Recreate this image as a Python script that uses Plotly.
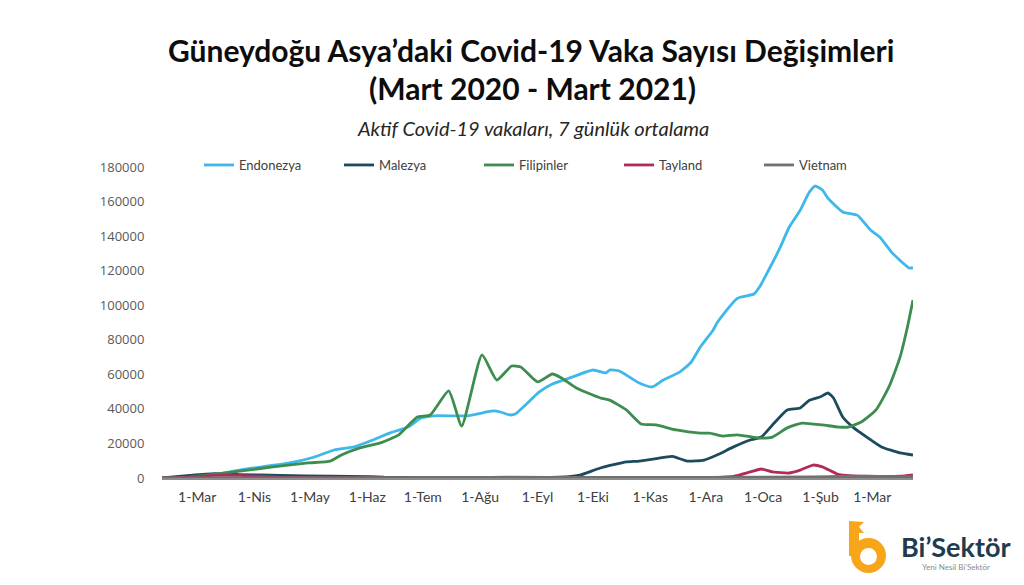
import plotly.graph_objects as go

# ---------------- data ----------------
endonezya_dates = ["2020-02-11", "2020-03-03", "2020-03-24", "2020-04-20", "2020-05-03", "2020-05-14",
                   "2020-05-25", "2020-06-04", "2020-06-13", "2020-06-23", "2020-06-30", "2020-07-07",
                   "2020-07-25", "2020-08-08", "2020-08-12", "2020-08-17", "2020-08-20", "2020-09-02",
                   "2020-09-09", "2020-09-20", "2020-10-01", "2020-10-08", "2020-10-10", "2020-10-15",
                   "2020-10-26", "2020-11-02", "2020-11-08", "2020-11-17", "2020-11-23", "2020-11-28",
                   "2020-12-05", "2020-12-07", "2020-12-18", "2020-12-27", "2020-12-30", "2021-01-04",
                   "2021-01-10", "2021-01-15", "2021-01-21", "2021-01-26", "2021-01-29", "2021-02-02",
                   "2021-02-05", "2021-02-13", "2021-02-21", "2021-02-28", "2021-03-05", "2021-03-12",
                   "2021-03-21", "2021-03-23"]
endonezya_vals = [0, 500, 4600, 8700, 12000, 16200,
                  18000, 22000, 26000, 29500, 34700, 36000,
                  36000, 38800, 38200, 36500, 37000, 49800,
                  54400, 58500, 62500, 60800, 62500, 62000,
                  55000, 52700, 56700, 61400, 67000, 75800,
                  85700, 89700, 104000, 106500, 110500, 120400,
                  133000, 145000, 155000, 165500, 169000, 166700,
                  162000, 154000, 152000, 143500, 139500, 130000,
                  121500, 121700]

malezya_dates = ["2020-02-11", "2020-02-26", "2020-03-10", "2020-03-24", "2020-04-15", "2020-05-12",
                 "2020-06-03", "2020-06-10", "2020-06-30", "2020-08-12", "2020-09-02", "2020-09-18",
                 "2020-09-24", "2020-10-05", "2020-10-19", "2020-10-26", "2020-11-10", "2020-11-13",
                 "2020-11-21", "2020-11-30", "2020-12-07", "2020-12-16", "2020-12-25", "2020-12-31",
                 "2021-01-06", "2021-01-14", "2021-01-21", "2021-01-26", "2021-02-01", "2021-02-05",
                 "2021-02-08", "2021-02-13", "2021-02-19", "2021-02-26", "2021-03-06", "2021-03-16",
                 "2021-03-23"]
malezya_vals = [0, 1500, 2500, 2000, 1500, 1000,
                800, 500, 200, 300, 300, 800,
                1700, 5800, 9300, 9800, 12200, 12500,
                9800, 10400, 13300, 18000, 22000, 23700,
                30700, 39400, 40500, 45000, 47000, 49200,
                46300, 35300, 29000, 23700, 18000, 14500,
                13300]

filipinler_dates = ["2020-02-11", "2020-02-26", "2020-03-06", "2020-03-24", "2020-04-11", "2020-04-30",
                    "2020-05-12", "2020-05-18", "2020-05-28", "2020-06-08", "2020-06-18", "2020-06-28",
                    "2020-07-05", "2020-07-15", "2020-07-22", "2020-08-02", "2020-08-10", "2020-08-18",
                    "2020-08-23", "2020-09-01", "2020-09-09", "2020-09-14", "2020-09-22", "2020-10-05",
                    "2020-10-10", "2020-10-19", "2020-10-27", "2020-11-04", "2020-11-15", "2020-11-28",
                    "2020-12-03", "2020-12-10", "2020-12-18", "2020-12-30", "2021-01-06", "2021-01-14",
                    "2021-01-22", "2021-02-02", "2021-02-11", "2021-02-16", "2021-02-23", "2021-03-03",
                    "2021-03-10", "2021-03-16", "2021-03-20", "2021-03-23"]
filipinler_vals = [0, 500, 1700, 4000, 6400, 8700,
                   9800, 13300, 17400, 20300, 25000, 35300,
                   36500, 50400, 30100, 71200, 56700, 64800,
                   64200, 55600, 60200, 57900, 52100, 46300,
                   45100, 39400, 31300, 30700, 27800, 26000,
                   26000, 24300, 25000, 23100, 23700, 29000,
                   31800, 30700, 29500, 29500, 32400, 39400,
                   52700, 70000, 87400, 103000]

tayland_dates = ["2020-02-11", "2020-02-26", "2020-03-10", "2020-03-24", "2020-04-15", "2020-05-07",
                 "2020-06-15", "2020-11-28", "2020-12-16", "2020-12-25", "2020-12-31", "2021-01-06",
                 "2021-01-15", "2021-01-21", "2021-01-28", "2021-02-02", "2021-02-10", "2021-02-13",
                 "2021-02-26", "2021-03-16", "2021-03-23"]
tayland_vals = [0, 500, 1500, 1500, 500, 200,
                100, 200, 1000, 3500, 5200, 3500,
                2900, 4600, 7500, 6400, 2300, 1700,
                1000, 1000, 1800]

vietnam_dates = ["2020-02-11", "2020-03-24", "2020-07-30", "2020-08-15", "2020-09-30", "2021-01-28",
                 "2021-02-15", "2021-03-23"]
vietnam_vals = [0, 100, 300, 500, 300, 600, 1000, 800]

series_names = ["Endonezya", "Malezya", "Filipinler", "Tayland", "Vietnam"]
series_colors = ["#3CB8EA", "#1D4B5E", "#3D8C50", "#B02A5C", "#707070"]
series_dates = [endonezya_dates, malezya_dates, filipinler_dates, tayland_dates, vietnam_dates]
series_vals = [endonezya_vals, malezya_vals, filipinler_vals, tayland_vals, vietnam_vals]

tick_dates = ["2020-03-01", "2020-04-01", "2020-05-01", "2020-06-01", "2020-07-01", "2020-08-01",
              "2020-09-01", "2020-10-01", "2020-11-01", "2020-12-01", "2021-01-01", "2021-02-01",
              "2021-03-01"]
tick_labels = ["1-Mar", "1-Nis", "1-May", "1-Haz", "1-Tem", "1-Ağu", "1-Eyl", "1-Eki", "1-Kas",
               "1-Ara", "1-Oca", "1-Şub", "1-Mar"]
y_ticks = [0, 20000, 40000, 60000, 80000, 100000, 120000, 140000, 160000, 180000]

# ---------------- layout helpers (pixel -> paper) ----------------
L, R, T, B = 162, 913, 167, 478
W, H = 1024, 585


def px(x):
    return (x - L) / (R - L)


def py(y):
    return (B - y) / (B - T)


fig = go.Figure()
for name, d, v, c in zip(series_names, series_dates, series_vals, series_colors):
    fig.add_trace(go.Scatter(x=d, y=v, name=name, mode="lines",
                             line=dict(color=c, width=2.8, shape="spline", smoothing=0.5)))

fig.update_layout(
    width=W, height=H, autosize=False,
    margin=dict(l=L, r=W - R, t=T, b=H - B),
    paper_bgcolor="white", plot_bgcolor="white",
    showlegend=True,
    legend=dict(orientation="h", x=px(199), xanchor="left", y=py(165), yanchor="middle",
                font=dict(family="Lato", size=13, color="#404040"),
                entrywidth=95, bgcolor="rgba(0,0,0,0)", itemwidth=30),
    xaxis=dict(type="date", range=["2020-02-11", "2021-03-23"], tickvals=tick_dates,
               ticktext=tick_labels, showgrid=False, zeroline=False, showline=True,
               linecolor="#8C8C8C", linewidth=1.5, ticks="outside", ticklen=5,
               tickcolor="rgba(0,0,0,0)",
               tickfont=dict(family="Lato", size=14, color="#404040")),
    yaxis=dict(range=[0, 180000], tickvals=y_ticks, ticktext=[str(t) for t in y_ticks],
               showgrid=False, zeroline=False, showline=False, ticks="outside", ticklen=14,
               tickcolor="rgba(0,0,0,0)",
               tickfont=dict(family="Open Sans", size=13, color="#595959")),
)

annos = [
    dict(text="<b>Güneydoğu Asya’daki Covid-19 Vaka Sayısı Değişimleri</b>", x=px(531), y=py(50),
         font=dict(family="Lato", size=30, color="#0D0D0D")),
    dict(text="<b>(Mart 2020 - Mart 2021)</b>", x=px(532), y=py(88),
         font=dict(family="Lato", size=30, color="#0D0D0D")),
    dict(text="<i>Aktif Covid-19 vakaları, 7 günlük ortalama</i>", x=px(533), y=py(128),
         font=dict(family="Lato", size=20, color="#262626")),
    dict(text="<b>Bi’Sektör</b>", x=px(956), y=py(546),
         font=dict(family="Lato", size=27, color="#1F3B4D")),
    dict(text="Yeni Nesil Bi’Sektör", x=px(956), y=py(567),
         font=dict(family="Lato", size=8, color="#8A8A8A")),
]
for a in annos:
    fig.add_annotation(xref="paper", yref="paper", showarrow=False, xanchor="center",
                       yanchor="middle", **a)

orange = "#F9A51A"
# logo: ring
fig.add_shape(type="circle", xref="paper", yref="paper", x0=px(851), x1=px(886), y0=py(573), y1=py(538),
              fillcolor=orange, line=dict(width=0))
fig.add_shape(type="circle", xref="paper", yref="paper", x0=px(860), x1=px(877), y0=py(565), y1=py(548),
              fillcolor="white", line=dict(width=0))
# stem
fig.add_shape(type="rect", xref="paper", yref="paper", x0=px(849), x1=px(859), y0=py(556), y1=py(530),
              fillcolor=orange, line=dict(width=0))
# flag
flag = [(849, 521), (864, 522), (859, 527), (864, 533), (849, 533)]
path = "M " + " L ".join(f"{px(a):.5f},{py(b):.5f}" for a, b in flag) + " Z"
fig.add_shape(type="path", xref="paper", yref="paper", path=path, fillcolor=orange, line=dict(width=0))

fig.write_html("out.html")
